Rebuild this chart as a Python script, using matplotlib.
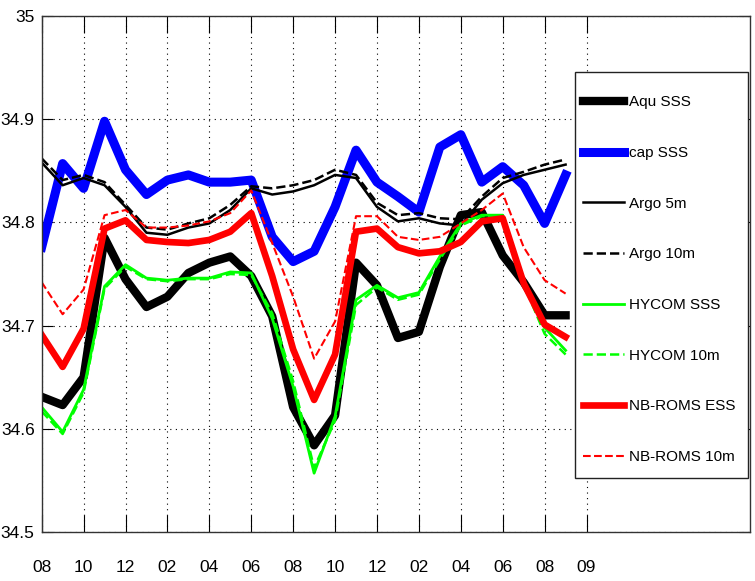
import numpy as np
import matplotlib
matplotlib.use('Agg')
from matplotlib import pyplot as plt
from matplotlib.patches import Rectangle
from matplotlib import font_manager

# monthly means, Aug 2010 .. Sep 2012
months = np.arange(26)
tick_pos = np.arange(0, 27, 2)
tick_labels = ['08', '10', '12', '02', '04', '06', '08', '10', '12', '02', '04', '06', '08', '09']

aqu_sss = [34.631, 34.623, 34.650, 34.785, 34.745, 34.718, 34.728, 34.751, 34.761, 34.767,
           34.748, 34.709, 34.621, 34.584, 34.613, 34.761, 34.739, 34.688, 34.694, 34.757,
           34.807, 34.810, 34.768, 34.742, 34.710, 34.710]
cap_sss = [34.776, 34.857, 34.833, 34.898, 34.851, 34.827, 34.841, 34.846, 34.839, 34.839,
           34.841, 34.786, 34.762, 34.772, 34.815, 34.870, 34.839, 34.825, 34.810, 34.873,
           34.885, 34.839, 34.854, 34.836, 34.799, 34.846]
argo_5m = [34.858, 34.836, 34.843, 34.836, 34.815, 34.790, 34.788, 34.795, 34.799, 34.812,
           34.833, 34.827, 34.830, 34.836, 34.846, 34.843, 34.815, 34.801, 34.804, 34.799,
           34.797, 34.822, 34.838, 34.846, 34.851, 34.856]
argo_10m = [34.862, 34.841, 34.846, 34.839, 34.817, 34.795, 34.793, 34.799, 34.804, 34.817,
            34.835, 34.833, 34.836, 34.841, 34.851, 34.846, 34.819, 34.807, 34.809, 34.804,
            34.803, 34.825, 34.843, 34.849, 34.856, 34.861]
hycom_sss = [34.621, 34.597, 34.638, 34.738, 34.759, 34.746, 34.744, 34.746, 34.746, 34.752,
             34.751, 34.707, 34.641, 34.557, 34.612, 34.725, 34.739, 34.727, 34.732, 34.767,
             34.799, 34.807, 34.807, 34.744, 34.698, 34.676]
hycom_10m = [34.617, 34.595, 34.635, 34.736, 34.757, 34.745, 34.743, 34.745, 34.745, 34.750,
             34.749, 34.712, 34.646, 34.562, 34.608, 34.720, 34.737, 34.725, 34.730, 34.764,
             34.797, 34.806, 34.805, 34.740, 34.692, 34.672]
roms_ess = [34.691, 34.660, 34.697, 34.794, 34.802, 34.783, 34.781, 34.780, 34.783, 34.791,
            34.809, 34.748, 34.677, 34.628, 34.672, 34.791, 34.794, 34.776, 34.770, 34.772,
            34.781, 34.801, 34.804, 34.741, 34.701, 34.689]
roms_10m = [34.742, 34.711, 34.735, 34.807, 34.812, 34.795, 34.795, 34.797, 34.801, 34.809,
            34.831, 34.780, 34.728, 34.668, 34.704, 34.806, 34.806, 34.786, 34.783, 34.786,
            34.799, 34.812, 34.828, 34.776, 34.744, 34.731]

names = {f.name for f in font_manager.fontManager.ttflist}
narrow = 'Liberation Sans Narrow' in names
plt.rcParams['font.family'] = ['Liberation Sans Narrow' if narrow else 'Liberation Sans', 'DejaVu Sans']
leg_size = 12.5 if narrow else 11
tick_size = 13 if narrow else 12.5

fig = plt.figure(figsize=(7.55, 5.81), dpi=100)
ax = fig.add_axes([0.0552, 0.0843, 0.9382, 0.8882])

ax.plot(months, aqu_sss, color='k', lw=6.0, label='Aqu SSS')
ax.plot(months, cap_sss, color='b', lw=6.5, label='cap SSS')
ax.plot(months, argo_5m, color='k', lw=1.8, label='Argo 5m')
ax.plot(months, argo_10m, color='k', lw=1.8, ls='--', label='Argo 10m')
ax.plot(months, hycom_sss, color=(0, 1, 0), lw=2.0, label='HYCOM SSS')
ax.plot(months, hycom_10m, color=(0, 1, 0), lw=1.8, ls='--', label='HYCOM 10m')
ax.plot(months, roms_ess, color='r', lw=4.8, label='NB-ROMS ESS')
ax.plot(months, roms_10m, color='r', lw=1.5, ls='--', label='NB-ROMS 10m')

ax.set_xlim(0, 33.8)
ax.set_ylim(34.5, 35.0)
ax.set_xticks(tick_pos)
ax.set_xticklabels(tick_labels)
ax.set_yticks([34.5, 34.6, 34.7, 34.8, 34.9, 35.0])
ax.set_yticklabels(['34.5', '34.6', '34.7', '34.8', '34.9', '35'])
ax.grid(True, color='k', lw=0.8, ls=(0, (1, 4)))
ax.tick_params(axis='x', direction='in', length=12, width=0.8, top=True, pad=20, labelsize=tick_size)
ax.tick_params(axis='y', direction='in', length=8, width=0.8, right=True, pad=5, labelsize=tick_size)
for sp in ax.spines.values():
    sp.set_linewidth(1.0)
    sp.set_color('#333333')

# legend box drawn by hand so the padding can differ per side
ax.add_patch(Rectangle((0.753, 0.104), 0.244, 0.787, transform=ax.transAxes,
                       facecolor='white', edgecolor='#222222', lw=1.0, zorder=4))
ax.legend(loc='upper left', bbox_to_anchor=(0.764, 0.846), frameon=False,
          borderpad=0, borderaxespad=0, fontsize=leg_size, labelspacing=2.4,
          handlelength=2.7, handletextpad=0.3)

fig.savefig('out.png', dpi=100)
